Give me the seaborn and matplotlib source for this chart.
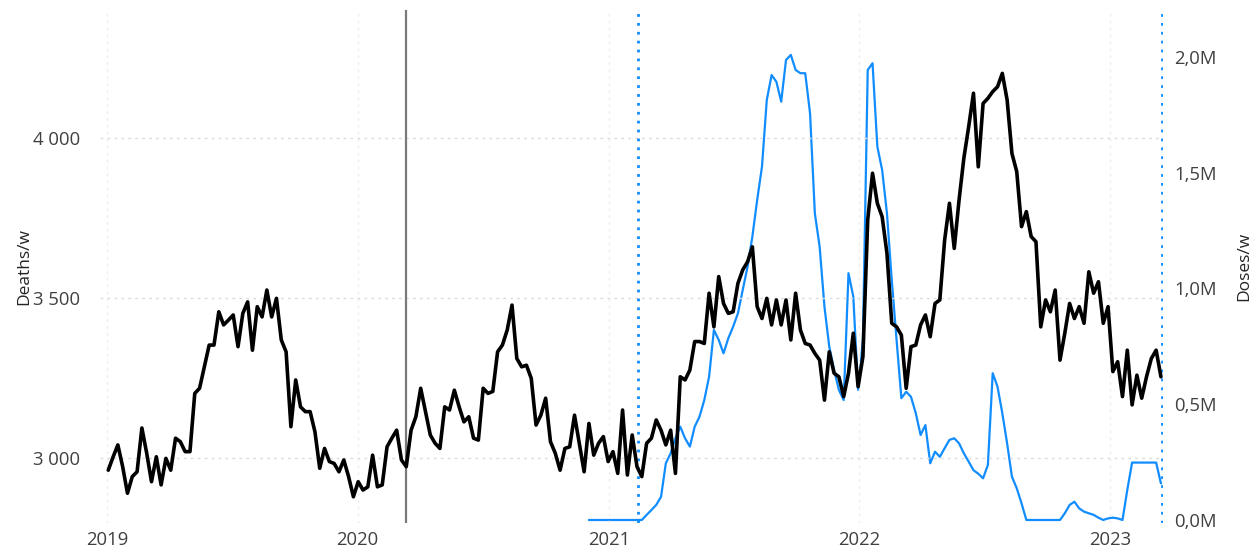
import pandas as pd
import seaborn as sns
import matplotlib.pyplot as plt
import matplotlib.dates as mdates
from matplotlib.ticker import FuncFormatter

# weekly deaths, first week starting 2019-01-03
deaths = [
    2962, 3003, 3041, 2973, 2890, 2942, 2957, 3094, 3015, 2926,
    3004, 2916, 2999, 2962, 3062, 3051, 3020, 3020, 3202, 3218,
    3285, 3353, 3353, 3457, 3416, 3431, 3447, 3348, 3452, 3488,
    3337, 3473, 3441, 3525, 3441, 3499, 3369, 3332, 3098, 3244,
    3160, 3145, 3145, 3082, 2968, 3030, 2989, 2983, 2957, 2994,
    2942, 2879, 2926, 2900, 2910, 3009, 2910, 2916, 3035, 3062,
    3087, 2994, 2973, 3087, 3129, 3218, 3145, 3072, 3046, 3030,
    3160, 3150, 3212, 3160, 3113, 3129, 3062, 3056, 3218, 3202,
    3208, 3332, 3353, 3400, 3478, 3311, 3285, 3290, 3249, 3103,
    3134, 3187, 3051, 3015, 2962, 3030, 3035, 3134, 3046, 2957,
    3108, 3009, 3046, 3067, 2989, 3020, 2952, 3150, 2947, 3072,
    2973, 2942, 3046, 3062, 3119, 3087, 3041, 3087, 2952, 3254,
    3244, 3275, 3364, 3364, 3358, 3515, 3410, 3567, 3483, 3452,
    3457, 3546, 3588, 3613, 3660, 3473, 3436, 3499, 3416, 3494,
    3416, 3494, 3369, 3515, 3400, 3358, 3353, 3327, 3306, 3181,
    3332, 3265, 3254, 3192, 3265, 3390, 3223, 3317, 3744, 3890,
    3796, 3754, 3640, 3421, 3410, 3384, 3218, 3348, 3353, 3416,
    3447, 3379, 3483, 3494, 3681, 3796, 3655, 3806, 3937, 4035,
    4140, 3910, 4108, 4124, 4145, 4160, 4202, 4119, 3952, 3895,
    3723, 3770, 3692, 3676, 3410, 3494, 3457, 3525, 3306, 3390,
    3483, 3436, 3473, 3421, 3582, 3515, 3551, 3421, 3473, 3270,
    3301, 3192, 3337, 3166, 3259, 3187, 3254, 3311, 3337, 3254,
]

# weekly vaccine doses (millions), starting at week 100 of the series
doses_start = 100
doses_m = [
    0, 0, 0, 0, 0, 0, 0, 0, 0, 0, 0, 0,
    0.022, 0.043, 0.065, 0.10, 0.245, 0.288, 0.353, 0.403,
    0.353, 0.317, 0.403, 0.446, 0.518, 0.619, 0.821, 0.778, 0.720, 0.785,
    0.835, 0.893, 0.994, 1.094, 1.224, 1.382, 1.526, 1.814, 1.922, 1.893,
    1.807, 1.987, 2.009, 1.944, 1.930, 1.930, 1.757, 1.325, 1.180, 0.921,
    0.749, 0.648, 0.562, 0.518, 1.066, 0.965, 0.562, 0.778, 1.944, 1.973,
    1.613, 1.512, 1.325, 1.037, 0.778, 0.526, 0.554, 0.532, 0.461, 0.367,
    0.410, 0.245, 0.295, 0.273, 0.310, 0.346, 0.353, 0.331, 0.288, 0.252,
    0.215, 0.200, 0.180, 0.238, 0.634, 0.576, 0.461, 0.331, 0.187, 0.137,
    0.072, 0, 0, 0, 0, 0, 0, 0, 0, 0.029,
    0.065, 0.079, 0.050, 0.036, 0.029, 0.022, 0.010, 0, 0.007, 0.010,
    0.007, 0, 0.130, 0.248, 0.248, 0.248, 0.248, 0.248, 0.248, 0.158,
]

year_ticks = ["2019", "2020", "2021", "2022", "2023"]
pandemic_start = "2020-03-11"
vax_marks = ["2021-02-13", "2023-03-17"]

weeks = pd.date_range("2019-01-03", periods=len(deaths), freq="7D")
df_deaths = pd.DataFrame({"week": weeks, "deaths": deaths})
df_doses = pd.DataFrame({"week": weeks[doses_start:doses_start + len(doses_m)],
                         "doses": [d * 1e6 for d in doses_m]})

sns.set_theme(style="white")
plt.rcParams["font.family"] = ["Open Sans", "DejaVu Sans"]

BLUE = "#118DFF"
TICK = "#404040"

fig = plt.figure(figsize=(12.6, 5.56), dpi=100)
ax = fig.add_axes([100 / 1260, 1 - 523 / 556, 1063 / 1260, 513 / 556])
ax2 = ax.twinx()

sns.lineplot(data=df_doses, x="week", y="doses", ax=ax2, color=BLUE, lw=1.6)
sns.lineplot(data=df_deaths, x="week", y="deaths", ax=ax, color="black", lw=2.6, zorder=5)
ax.set_zorder(ax2.get_zorder() + 1)
ax.patch.set_visible(False)

ax.set_xlim(pd.Timestamp("2018-12-22"), pd.Timestamp("2023-03-19"))
ax.set_ylim(2797, 4400)
ax2.set_ylim(-0.013e6, 2.203e6)

ax.set_yticks([3000, 3500, 4000])
ax.yaxis.set_major_formatter(FuncFormatter(lambda v, p: f"{int(v):,}".replace(",", " ")))
ax2.set_yticks([0, 0.5e6, 1.0e6, 1.5e6, 2.0e6])
ax2.yaxis.set_major_formatter(FuncFormatter(lambda v, p: f"{v / 1e6:.1f}M".replace(".", ",")))

ax.set_xticks([pd.Timestamp(f"{y}-01-01") for y in year_ticks])
ax.xaxis.set_major_formatter(mdates.DateFormatter("%Y"))

ax.grid(axis="y", linestyle=(0, (2, 3)), color="#dcdcdc", lw=1)
ax.grid(axis="x", linestyle=(0, (2, 3)), color="#eeeeee", lw=1)
ax2.grid(False)

ax.axvline(pd.Timestamp(pandemic_start), color="#7a7a7a", lw=1.6, zorder=1)
for d in vax_marks:
    ax.axvline(pd.Timestamp(d), color=BLUE, lw=2, linestyle=(0, (1, 2.2)), zorder=1)

for a in (ax, ax2):
    for s in a.spines.values():
        s.set_visible(False)
    a.tick_params(length=0, labelsize=13.3, labelcolor=TICK)
ax.tick_params(axis="y", pad=14)
ax.tick_params(axis="x", pad=6)
ax2.tick_params(axis="y", pad=8)

ax.set_xlabel("")
ax.set_ylabel("Deaths/w", fontsize=12.5, color="#252423")
ax2.set_ylabel("Doses/w", fontsize=12.5, color="#252423")
ax.yaxis.set_label_coords(-0.064, 0.5)
ax2.yaxis.set_label_coords(1.069, 0.5)

fig.savefig("out.png", dpi=100)
